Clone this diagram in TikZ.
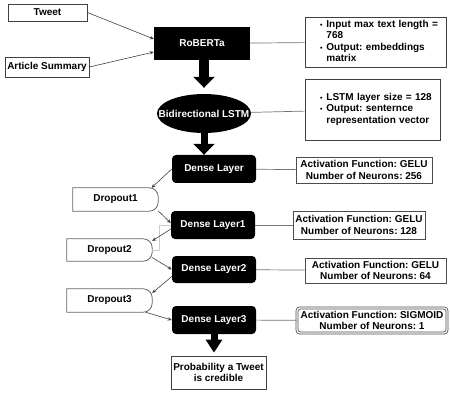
\documentclass[tikz,border=0pt]{standalone}
\usepackage{fontspec}
\setmainfont{Liberation Sans}
\usetikzlibrary{arrows.meta,shapes.geometric}

\begin{document}
\begin{tikzpicture}[x=1pt,y=-1pt,
    font=\fontsize{10}{11.5}\selectfont\bfseries\frenchspacing,
    plain/.style={draw=black!75,line width=0.8pt,fill=white,inner sep=0pt},
    layer/.style={fill=black,text=white,rounded corners=4pt,inner sep=0pt,
      minimum width=84pt,minimum height=28pt},
    dropout/.style={inner sep=0pt,minimum width=85pt,minimum height=23pt},
    note/.style={draw=black!70,line width=0.8pt,inner sep=0pt,minimum height=26pt,align=center},
    link/.style={draw=black!55,line width=0.7pt},
    flow/.style={draw=black!75,line width=0.6pt,-{Stealth[length=4pt,width=3.5pt]}}]
\useasboundingbox (0,0) rectangle (450,393);
%% inputs
\node[plain,minimum width=79pt,minimum height=17pt] (tweet) at (47.5,12.5) {Tweet};
\node[plain,minimum width=84pt,minimum height=20pt] (summary) at (47,67) {Article Summary};
\node[fill=black,text=white,inner sep=0pt,minimum width=96pt,minimum height=33pt] (roberta) at (202,43.5) {RoBERTa};
\draw[flow] (tweet.east) -- ([yshift=4.5pt]roberta.west);
\draw[flow] (summary.east) -- ([yshift=-8.5pt]roberta.west);
\node[plain,text width=141pt,minimum height=50pt,align=left] (robertainfo) at (375.5,42)
  {\hspace*{15pt}\begin{tabular}{@{}l@{\hspace{4pt}}l@{}}
   {\scriptsize\textbullet} & Input max text length = \\ & 768 \\
   {\scriptsize\textbullet} & Output: embeddings \\ & matrix \end{tabular}};
\draw[link] (roberta) -- (robertainfo);
%% lstm
\node[ellipse,fill=black,text=white,inner sep=0pt,minimum width=94pt,minimum height=39pt] (lstm) at (204,113.5)
  {\makebox[0pt]{Bidirectional LSTM}};
\draw[line width=10pt,-{Triangle[width=21pt,length=11pt]},shorten >=6pt] (roberta.south -| lstm.north) -- (lstm.north);
\node[plain,text width=135pt,minimum height=61pt,align=left] (lstminfo) at (372.5,109.5)
  {\hspace*{15pt}\begin{tabular}{@{}l@{\hspace{4pt}}l@{}}
   {\scriptsize\textbullet} & LSTM layer size = 128 \\
   {\scriptsize\textbullet} & Output: senternce \\ & representation vector \end{tabular}};
\draw[link] (lstm) -- (lstminfo);
%% dense layers
\node[layer] (dense) at (214,169) {Dense Layer};
\draw[line width=7pt,-{Triangle[width=21pt,length=11pt]}] (lstm.south) -- (lstm.south |- dense.north);
\node[note,minimum width=136pt] (denseinfo) at (364,170) {Activation Function: GELU\\Number of Neurons: 256};
\draw[link] (dense) -- (denseinfo);
\node[dropout] (drop1) at (115.5,199.5) {Dropout1};
\node[layer] (dense1) at (213,225) {Dense Layer1};
\node[note,minimum width=132pt,minimum height=28pt] (dense1info) at (359,225) {Activation Function: GELU\\Number of Neurons: 128};
\draw[link] (dense1) -- (dense1info);
\node[dropout,minimum height=22pt] (drop2) at (109.5,250) {Dropout2};
\node[layer,minimum height=27pt] (dense2) at (214,269.5) {Dense Layer2};
\node[note,minimum width=141pt,minimum height=25pt] (dense2info) at (375.5,270.5) {Activation Function: GELU\\Number of Neurons: 64};
\draw[link] (dense2) -- (dense2info);
\node[dropout] (drop3) at (109.5,300.5) {Dropout3};
\node[layer] (dense3) at (214,320) {Dense Layer3};
\node[note,double,double distance=1.2pt,rounded corners=3pt,minimum width=150pt,minimum height=25pt] (dense3info) at (372,320.5)
  {Activation Function: SIGMOID\\Number of Neurons: 1};
\draw[link] (dense3) -- (dense3info);
%% dropout outlines, square left and round right
\foreach \d in {drop1,drop2,drop3}
  \draw[black!60,line width=0.8pt] (\d.south west) -- (\d.north west) -- ([xshift=-9pt]\d.north east)
    arc[start angle=90,end angle=0,radius=9pt] -- ([yshift=9pt]\d.south east)
    arc[start angle=0,end angle=-90,radius=9pt] -- cycle;
%% dropout links
\draw[flow] (dense.west) -- (drop1.18);
\draw[flow] (drop1.-15) -- ([yshift=2pt]dense1.west);
\draw[black!20] (dense1.west) -- ++(-12,0) |- (drop2.east);
\draw[flow] ([yshift=-4pt]dense1.west) -- (drop2.12);
\draw[flow] (drop2.-10) -- (dense2.west);
\draw[flow] ([yshift=-7pt]dense2.west) -- (drop3.10);
\draw[flow] (drop3.-18) -- (dense3.west);
%% output
\node[plain,minimum width=95pt,minimum height=33pt,align=center] (prob) at (218.5,372.5) {Probability a Tweet\\is credible};
\draw[line width=7pt,-{Triangle[width=16pt,length=13pt]},shorten >=3pt] (dense3.south) -- (dense3.south |- prob.north);

\end{tikzpicture}
\end{document}
